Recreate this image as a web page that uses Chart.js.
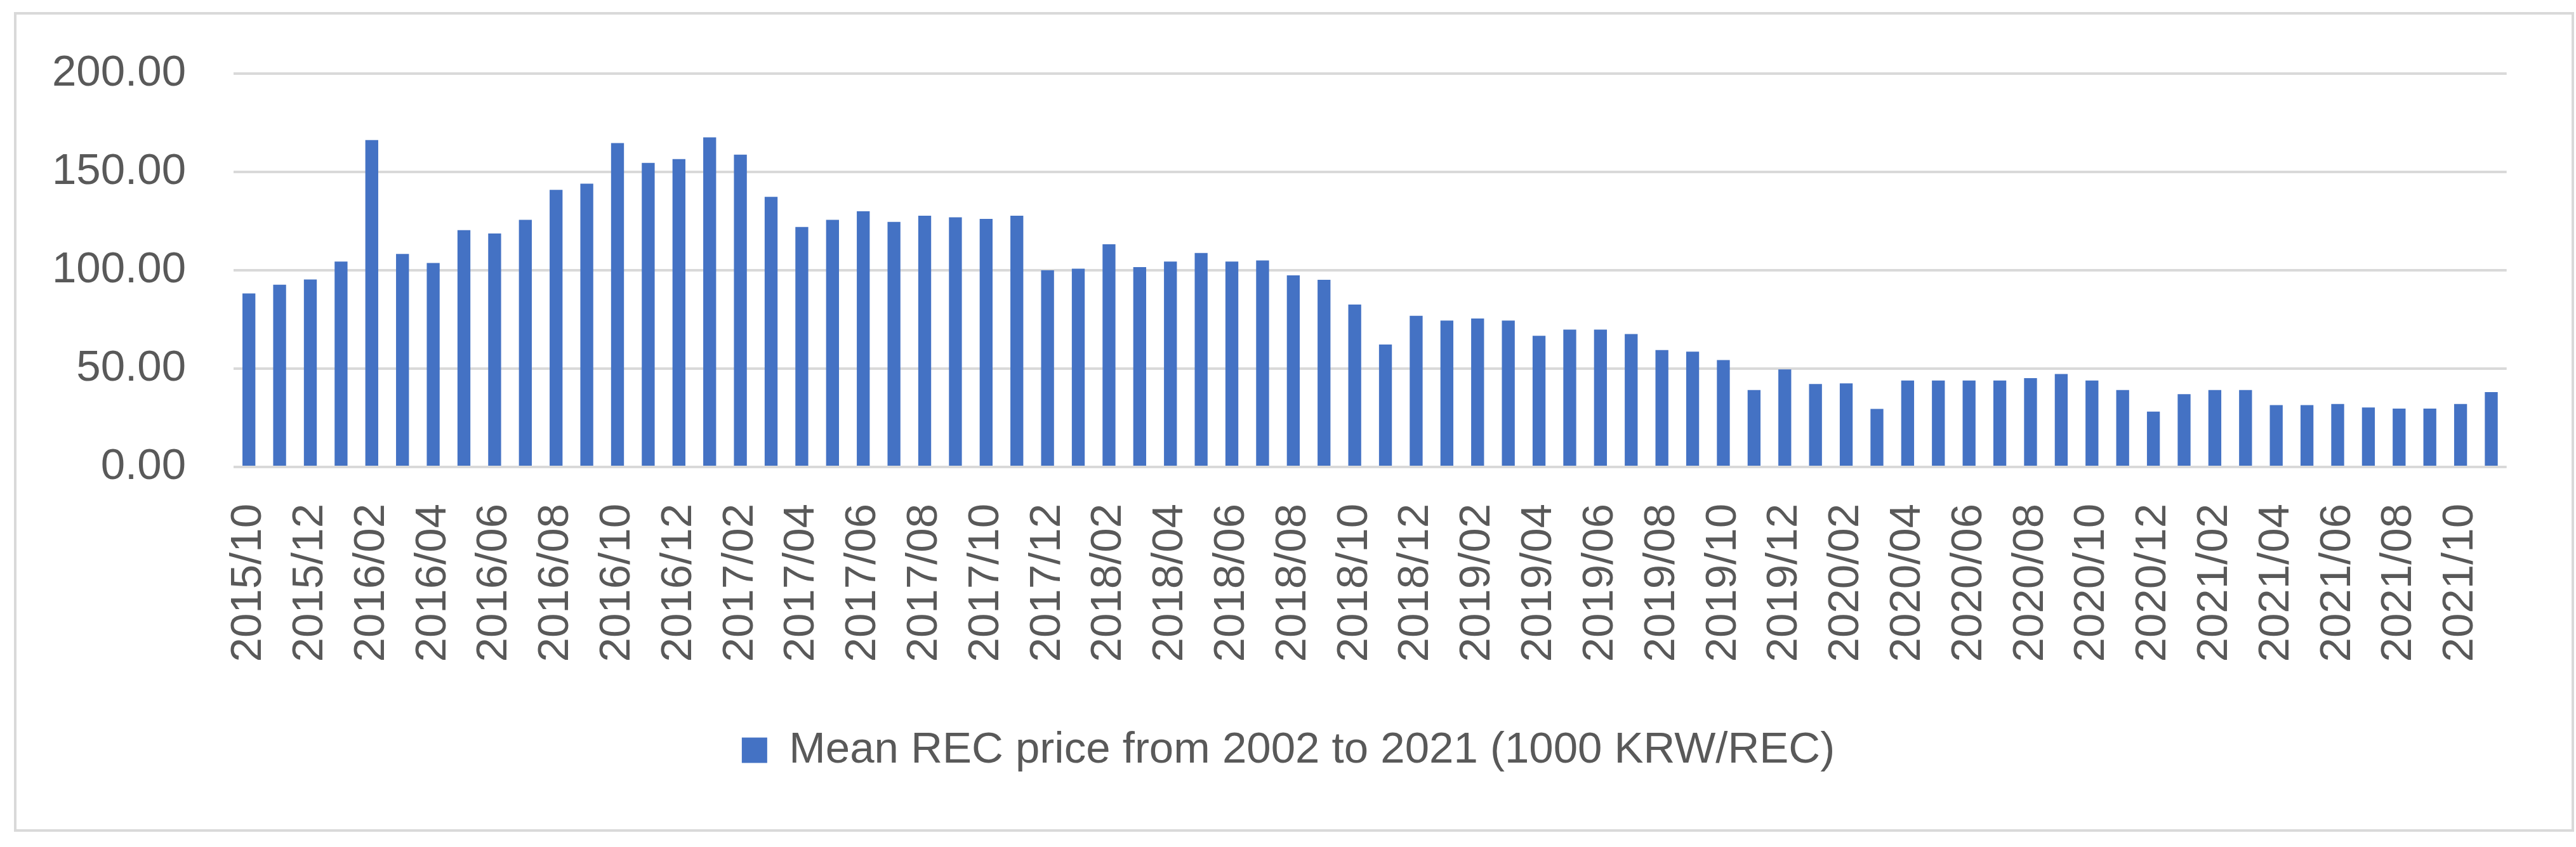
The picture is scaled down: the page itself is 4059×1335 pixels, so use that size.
<!DOCTYPE html>
<html>
<head>
<meta charset="utf-8">
<script src="https://cdn.jsdelivr.net/npm/chart.js@4"></script>
<style>
  html, body { margin: 0; padding: 0; background: #fff; }
  #wrap { position: relative; width: 4059px; height: 1335px; }
  #frame { position: absolute; left: 22px; top: 19px; width: 4026px; height: 1284px; border: 4px solid #d9d9d9; }
  canvas { position: absolute; left: 0; top: 0; }
</style>
</head>
<body>
<div id="wrap">
  <div id="frame"></div>
  <canvas id="chart" width="4059" height="1335"></canvas>
</div>
<script>
const months = [
  '2015/10', '2015/11', '2015/12',
  '2016/01', '2016/02', '2016/03', '2016/04', '2016/05', '2016/06', '2016/07', '2016/08', '2016/09', '2016/10', '2016/11', '2016/12',
  '2017/01', '2017/02', '2017/03', '2017/04', '2017/05', '2017/06', '2017/07', '2017/08', '2017/09', '2017/10', '2017/11', '2017/12',
  '2018/01', '2018/02', '2018/03', '2018/04', '2018/05', '2018/06', '2018/07', '2018/08', '2018/09', '2018/10', '2018/11', '2018/12',
  '2019/01', '2019/02', '2019/03', '2019/04', '2019/05', '2019/06', '2019/07', '2019/08', '2019/09', '2019/10', '2019/11', '2019/12',
  '2020/01', '2020/02', '2020/03', '2020/04', '2020/05', '2020/06', '2020/07', '2020/08', '2020/09', '2020/10', '2020/11', '2020/12',
  '2021/01', '2021/02', '2021/03', '2021/04', '2021/05', '2021/06', '2021/07', '2021/08', '2021/09', '2021/10', '2021/11'
]

// mean REC price, 1000 KRW/REC
const recPrice = [
  88.3, 92.7, 95.4,
  104.5, 166.3, 108.4, 103.8, 120.5, 118.8, 125.7, 141.0, 144.1, 164.8, 154.7, 156.6,
  167.7, 158.9, 137.4, 122.1, 125.7, 130.1, 124.7, 127.8, 127.0, 126.2, 127.8, 100.1,
  100.9, 113.3, 101.7, 104.5, 108.9, 104.5, 105.1, 97.5, 95.2, 82.6, 62.3, 76.9,
  74.5, 75.5, 74.5, 66.7, 69.9, 69.9, 67.6, 59.5, 58.7, 54.4, 39.1, 49.6,
  42.2, 42.5, 29.5, 44.0, 44.0, 44.0, 44.0, 45.2, 47.3, 44.0, 39.1, 28.2,
  37.0, 39.1, 39.1, 31.5, 31.5, 32.0, 30.3, 29.7, 29.7, 32.0, 38.1
]

const seriesName = 'Mean REC price from 2002 to 2021 (1000 KRW/REC)'
const yTicks = [0, 50, 100, 150, 200]

const textColor = '#595959'
const gridColor = '#d9d9d9'
const barColor = '#4472c4'
const fontFamily = '"Liberation Sans", Arial, sans-serif'

// legend is centred on the whole frame, not on the chart box
const centreLegend = {
  id: 'centreLegend',
  afterLayout(chart) {
    if (chart.legend) chart.legend.left = 103
  }
}

const config = {
  type: 'bar',
  data: {
    labels: months,
    datasets: [{
      label: seriesName,
      data: recPrice,
      backgroundColor: barColor,
      borderWidth: 0,
      barPercentage: 0.42,
      categoryPercentage: 1.0,
    }]
  },
  options: {
    responsive: false,
    devicePixelRatio: 1,
    animation: false,
    layout: {
      padding: { top: 112, right: 102, bottom: 108, left: 0 }
    },
    scales: {
      x: {
        grid: { display: false },
        border: { display: false },
        ticks: {
          autoSkip: false,
          maxRotation: 90,
          minRotation: 90,
          padding: 50,
          color: textColor,
          font: { family: fontFamily, size: 69 },
          callback: function(value, index) {
            return index % 2 === 0 ? months[index] : ''
          }
        },
        afterFit: function(scale) { scale.height = 342 },
      },
      y: {
        min: 0,
        max: 200,
        afterBuildTicks: function(scale) {
          scale.ticks = yTicks.map(v => ({ value: v }))
        },
        grid: {
          color: gridColor,
          lineWidth: 4,
          drawTicks: false,
        },
        border: { display: false },
        ticks: {
          padding: 75,
          color: textColor,
          font: { family: fontFamily, size: 69 },
          callback: function(value) { return value.toFixed(2) }
        },
        afterFit: function(scale) { scale.width = 368 },
      },
    },
    plugins: {
      legend: {
        position: 'bottom',
        labels: {
          color: textColor,
          font: { family: fontFamily, size: 69 },
          boxWidth: 40,
          boxHeight: 40,
          padding: 70,
        }
      },
      tooltip: { enabled: false },
    },
  },
  plugins: [centreLegend],
}

new Chart(document.getElementById('chart'), config)
</script>
</body>
</html>
